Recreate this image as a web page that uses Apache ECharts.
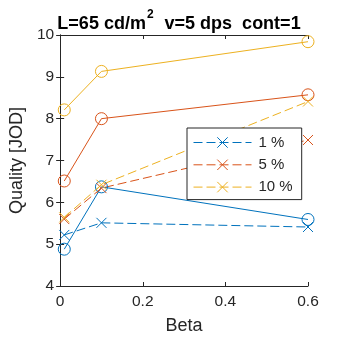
<!DOCTYPE html>
<html>
<head>
<meta charset="utf-8">
<script src="https://cdn.jsdelivr.net/npm/echarts@6/dist/echarts.min.js"></script>
<style>
  html, body { margin: 0; padding: 0; background: #fff; }
  #chart { width: 340px; height: 340px; }
</style>
</head>
<body>
<div id="chart"></div>
<script>
// Beta values measured
const beta = [0.01, 0.1, 0.6];

// Quality (JOD) — solid lines with circles
const circle1 = [4.88, 6.37, 5.59];
const circle5 = [6.51, 8.00, 8.57];
const circle10 = [8.21, 9.13, 9.84];

// Quality (JOD) — dashed lines with crosses
const cross1 = [5.22, 5.51, 5.41];
const cross5 = [5.60, 6.34, 7.49];
const cross10 = [5.64, 6.42, 8.41];

const seriesNames = ['1 %', '5 %', '10 %'];
const xTicks = [0, 0.2, 0.4, 0.6];
const yTicks = [4, 5, 6, 7, 8, 9, 10];

const colors = ['#0072BD', '#D95319', '#EDB120'];
const ink = '#262626';
const font = 'Liberation Sans, Arial, Helvetica, sans-serif';
const crossPath = 'path://M0,0L10,10M10,0L0,10';
const dash = [9, 4];

function pts(ys) { return beta.map((b, i) => [b, ys[i]]); }

function solid(name, ys, c) {
  return {
    name: name, type: 'line', data: pts(ys),
    symbol: 'circle', symbolSize: 12, showSymbol: true,
    lineStyle: { color: c, width: 1 },
    itemStyle: { color: 'rgba(0,0,0,0)', borderColor: c, borderWidth: 1 },
    emphasis: { disabled: true }, animation: false, z: 3
  };
}
function dashed(name, ys, c) {
  return {
    name: name, type: 'line', data: pts(ys),
    symbol: crossPath, symbolSize: 10, showSymbol: true,
    lineStyle: { color: c, width: 1, type: dash },
    itemStyle: { color: 'rgba(0,0,0,0)', borderColor: c, borderWidth: 1 },
    emphasis: { disabled: true }, animation: false, z: 3
  };
}

const chart = echarts.init(document.getElementById('chart'), null, { renderer: 'canvas' });

const axisCommon = {
  axisLine: { show: true, lineStyle: { color: ink, width: 1 } },
  axisTick: { show: true, inside: true, length: 4, lineStyle: { color: ink } },
  splitLine: { show: false }
};

chart.setOption({
  animation: false,
  backgroundColor: '#fff',
  title: {
    text: '{a|L=65 cd/m}{s|2}{a|  v=5 dps  cont=1}',
    left: 174, top: 4, textAlign: 'center',
    textStyle: {
      rich: {
        a: { fontFamily: font, fontSize: 18, fontWeight: 'bold', color: '#000', verticalAlign: 'bottom', lineHeight: 24 },
        s: { fontFamily: font, fontSize: 12, fontWeight: 'bold', color: '#000', verticalAlign: 'top', padding: [0, 1, 9, 1], lineHeight: 24 }
      }
    }
  },
  grid: { left: 50, right: 32, top: 35, bottom: 53 },
  legend: {
    data: seriesNames,
    left: 187, top: 128,
    orient: 'vertical',
    itemWidth: 58, itemHeight: 13, itemGap: 7.3,
    padding: [7, 9, 5, 6],
    backgroundColor: '#fff',
    borderColor: ink, borderWidth: 1, borderRadius: 0,
    lineStyle: { width: 1 },
    itemStyle: { borderWidth: 1 },
    textStyle: { fontFamily: font, fontSize: 15, color: ink, padding: [0, 0, 0, 2] },
    selectedMode: false
  },
  xAxis: [
    Object.assign({
      type: 'value', min: 0, max: 0.6, interval: 0.2,
      name: 'Beta', nameLocation: 'middle', nameGap: 31,
      nameTextStyle: { fontFamily: font, fontSize: 18, color: ink },
      axisLabel: { fontFamily: font, fontSize: 15.5, color: ink, margin: 8,
        formatter: v => xTicks.includes(+v.toFixed(2)) ? String(+v.toFixed(2)) : '' }
    }, axisCommon),
    Object.assign({
      type: 'value', min: 0, max: 0.6, interval: 0.2, position: 'top',
      axisLabel: { show: false }
    }, axisCommon)
  ],
  yAxis: [
    Object.assign({
      type: 'value', min: 4, max: 10, interval: 1,
      name: 'Quality [JOD]', nameLocation: 'middle', nameGap: 26,
      nameTextStyle: { fontFamily: font, fontSize: 18, color: ink },
      axisLabel: { fontFamily: font, fontSize: 15.5, color: ink, margin: 6,
        formatter: v => yTicks.includes(v) ? String(v) : '' }
    }, axisCommon),
    Object.assign({
      type: 'value', min: 4, max: 10, interval: 1, position: 'right',
      axisLabel: { show: false }
    }, axisCommon)
  ],
  series: [
    solid('1 % solid', circle1, colors[0]),
    solid('5 % solid', circle5, colors[1]),
    solid('10 % solid', circle10, colors[2]),
    dashed(seriesNames[0], cross1, colors[0]),
    dashed(seriesNames[1], cross5, colors[1]),
    dashed(seriesNames[2], cross10, colors[2])
  ]
});
</script>
</body>
</html>
